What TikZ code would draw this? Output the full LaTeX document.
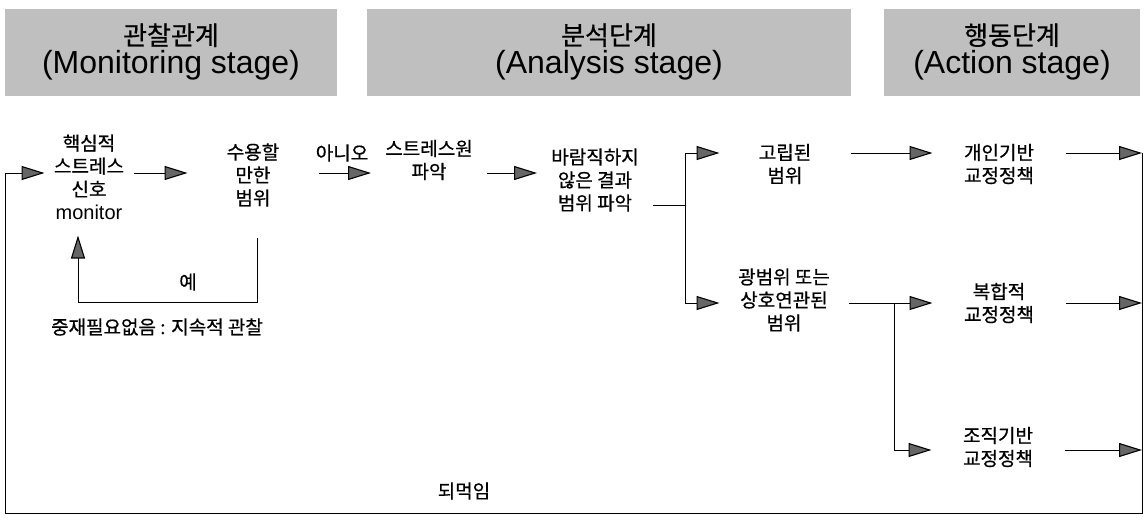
\documentclass[tikz,border=0pt]{standalone}
\usepackage{fontspec}
\setmainfont{Liberation Sans}
\newfontfamily\kr[FakeBold=0.6]{Noto Sans CJK KR}
\usetikzlibrary{arrows.meta}

\begin{document}
\begin{tikzpicture}[x=1pt,y=-1pt,line width=1pt]
	\tikzset{stage/.style={fill=gray!50, align=center, minimum height=87pt, inner sep=0pt,
	        font=\fontsize{26}{29}\selectfont},
	    box/.style={align=center, inner sep=0pt, font=\kr\fontsize{19}{23}\selectfont},
	    lbl/.style={inner sep=1pt, font=\kr\fontsize{19}{23}\selectfont},
	    arr/.style={-{Triangle[length=23pt,width=14pt,fill=black!60,line width=1.1pt]}}
	}
	\useasboundingbox (0,0) rectangle (1144,522);
	% stage headers
	\node (st1) at (171,52) [stage, minimum width=332pt] {{\kr 관찰관계}\\{\fontsize{32}{29}\selectfont (Monitoring stage)}};
	\node (st2) at (609,52) [stage, minimum width=484pt] {{\kr 분석단계}\\{\fontsize{32}{29}\selectfont (Analysis stage)}};
	\node (st3) at (1012,52) [stage, minimum width=256pt] {{\kr 행동단계}\\{\fontsize{32}{29}\selectfont (Action stage)}};
	% steps
	\node (mon) at (89,177) [box, minimum width=88pt, minimum height=116pt] {핵심적\\스트레스\\신호\\\rmfamily\fontsize{20}{23}\selectfont monitor};
	\node (acc) at (253,175) [box, minimum width=130pt, minimum height=124pt] {수용할\\만한\\범위};
	\node (src) at (429,160) [box, minimum width=115pt] {스트레스원\\파악};
	\node (res) at (595,180) [box, minimum width=115pt] {바람직하지\\않은 결과\\범위 파악};
	\node (iso) at (785,164) [box, minimum width=130pt] {고립된\\범위};
	\node (wide) at (784,300) [box, minimum width=128pt] {광범위 또는\\상호연관된\\범위};
	\node (ind) at (999,164) [box, minimum width=132pt] {개인기반\\교정정책};
	\node (comp) at (999,303) [box, minimum width=132pt] {복합적\\교정정책};
	\node (org) at (998,447) [box, minimum width=132pt] {조직기반\\교정정책};
	% labels
	\node (no) at (342,153) [lbl] {아니오};
	\node (yes) at (188,282) [lbl] {예};
	\node (nochk) at (157,327) [lbl] {중재필요없음 : 지속적 관찰};
	\node (fb) at (464,491) [lbl] {되먹임};
	% levels and corners
	\coordinate (rowA) at (0,173);
	\coordinate (rowB) at (0,153);
	\coordinate (rowC) at (0,303);
	\coordinate (rowD) at (0,450);
	\coordinate (loop) at (0,302);
	\coordinate (splitA) at (685,205);
	\coordinate (splitB) at (894,303);
	\coordinate (fbL) at (5,513);
	\coordinate (fbR) at (1142,513);
	% connectors
	\draw[arr] (mon.east |- rowA) -- (acc.west |- rowA);
	\draw[arr] (acc.east |- rowA) -- (src.west |- rowA);
	\draw[arr] (src.east |- rowA) -- (res.west |- rowA);
	\draw[arr] ([xshift=4pt]acc.south) -- ([xshift=4pt]acc.south |- loop) -| ([xshift=-11pt]mon.south);
	\draw (res.east |- splitA) -- (splitA);
	\draw[arr] (splitA) |- (iso.west |- rowB);
	\draw[arr] (splitA) |- (wide.west |- rowC);
	\draw[arr] (iso.east |- rowB) -- (ind.west |- rowB);
	\draw[arr] (wide.east |- rowC) -- (comp.west |- rowC);
	\draw[arr] (splitB) |- (org.west |- rowD);
	\draw[arr] (ind.east |- rowB) -- (fbR |- rowB);
	\draw[arr] (comp.east |- rowC) -- (fbR |- rowC);
	\draw[arr] (org.east |- rowD) -- (fbR |- rowD);
	\draw[arr] (fbR |- rowB) -- (fbR) -- (fbL) |- (mon.west |- rowA);
\end{tikzpicture}
\end{document}
